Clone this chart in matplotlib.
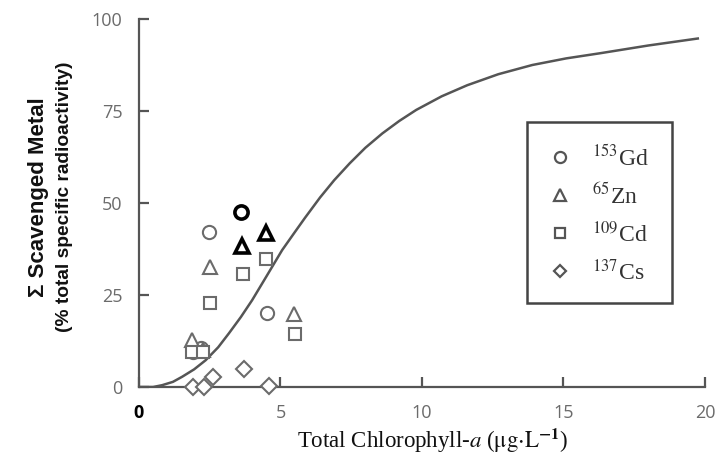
import numpy as np
import matplotlib
matplotlib.use("Agg")
import matplotlib.pyplot as plt
from matplotlib.patches import Rectangle

plt.rcParams['mathtext.fontset'] = 'stix'

# Scavenged fraction vs. chlorophyll for each radiotracer
gd_x = [1.9, 2.2, 2.47, 3.6, 4.51]
gd_y = [9.6, 10.5, 42.2, 47.5, 20.0]
gd_bold = [False, False, False, True, False]

zn_x = [1.86, 2.27, 2.51, 3.64, 4.49, 5.49]
zn_y = [12.8, 10.1, 32.5, 38.3, 41.9, 19.8]
zn_bold = [False, False, False, True, True, False]

cd_x = [1.86, 2.27, 2.51, 3.66, 4.49, 5.51]
cd_y = [9.4, 9.6, 22.9, 30.6, 34.8, 14.4]
cd_bold = [False] * 6

cs_x = [1.92, 2.3, 2.6, 3.72, 4.6]
cs_y = [0.1, 0.0, 2.8, 4.8, 0.3]
cs_bold = [False] * 5

# model curve
fit_x = [0.0, 0.5, 0.82, 1.2, 1.53, 1.95, 2.36, 2.8, 3.18, 3.6, 4.0, 4.5,
         5.06, 5.5, 5.87, 6.4, 6.9, 7.45, 8.0, 8.6, 9.2, 9.8, 10.7, 11.6,
         12.7, 13.9, 15.1, 16.3, 18.0, 19.75]
fit_y = [0.0, 0.0, 0.5, 1.4, 2.8, 4.8, 7.3, 10.8, 14.6, 19.0, 23.6, 30.0,
         37.2, 42.0, 46.0, 51.5, 56.2, 60.8, 65.0, 68.9, 72.3, 75.3, 79.0,
         82.0, 85.0, 87.5, 89.3, 90.7, 92.8, 94.7]

series = [
    ('o', gd_x, gd_y, gd_bold, r'$^{153}$Gd', 9.5),
    ('^', zn_x, zn_y, zn_bold, r'$^{65}$Zn', 9.5),
    ('s', cd_x, cd_y, cd_bold, r'$^{109}$Cd', 9.0),
    ('D', cs_x, cs_y, cs_bold, r'$^{137}$Cs', 8.0),
]

grey = '#6b6b6b'
axis_col = '#555555'

fig = plt.figure(figsize=(7.2, 4.58), dpi=100)
ax = fig.add_axes([0.193, 0.155, 0.786, 0.8035])

ax.plot(fit_x, fit_y, color='#555555', lw=1.8, zorder=2)

for marker, xs, ys, bold, label, ms in series:
    for x, y, b in zip(xs, ys, bold):
        ax.plot(x, y, marker=marker, ms=ms, mfc='white', linestyle='none',
                mec='black' if b else grey, mew=2.6 if b else 1.5,
                zorder=3, clip_on=False)

ax.set_xlim(0, 20)
ax.set_ylim(0, 100)
ax.set_xticks([0, 5, 10, 15, 20])
ax.set_yticks([0, 25, 50, 75, 100])
for s in ['top', 'right']:
    ax.spines[s].set_visible(False)
for s in ['left', 'bottom']:
    ax.spines[s].set_color(axis_col)
    ax.spines[s].set_linewidth(1.6)
ax.tick_params(direction='in', length=7, width=1.6, color=axis_col,
               labelcolor=grey, labelsize=13)
ax.tick_params(axis='y', pad=12)
ax.tick_params(axis='x', pad=12)
for t in ax.get_xticklabels() + ax.get_yticklabels():
    t.set_family('Open Sans')
ax.get_xticklabels()[0].set_color('black')
ax.get_xticklabels()[0].set_fontweight('bold')

ax.set_xlabel(r'Total Chlorophyll-$a$ ($\mathrm{\mu g{\cdot}L}^{\mathbf{-1}}$)',
              family='Liberation Serif', fontsize=16.5, color='#111111')
ax.xaxis.set_label_coords(0.518, -0.108)
fig.text(0.054, 0.57, u'\u03a3 Scavenged Metal', rotation=90, ha='center',
         va='center', fontsize=16, fontweight='bold', family='Liberation Sans',
         color='#111111')
fig.text(0.089, 0.57, '(% total specific radioactivity)', rotation=90,
         ha='center', va='center', fontsize=13.8, fontweight='bold',
         family='Liberation Sans', color='#111111')

# legend box
lx0, lx1 = 527, 672
ly0, ly1 = 122, 303
W, H = 720, 458
fig.patches.append(Rectangle((lx0 / W, 1 - ly1 / H), (lx1 - lx0) / W,
                             (ly1 - ly0) / H, transform=fig.transFigure,
                             fill=False, ec='#444444', lw=1.8))
rows = [157, 195, 233, 271]
for (marker, xs, ys, bold, label, ms), ry in zip(series, rows):
    fig.lines.append(plt.Line2D([560 / W], [1 - ry / H], marker=marker,
                                ms=ms - 1.5, mfc='white', mec='#555555', mew=1.6,
                                linestyle='none', transform=fig.transFigure))
    fig.text(592 / W, 1 - (ry + 1) / H, label, fontsize=17, color='#333333',
             family='Liberation Serif', va='center', ha='left')

fig.savefig('out.png', dpi=100, facecolor='white')
